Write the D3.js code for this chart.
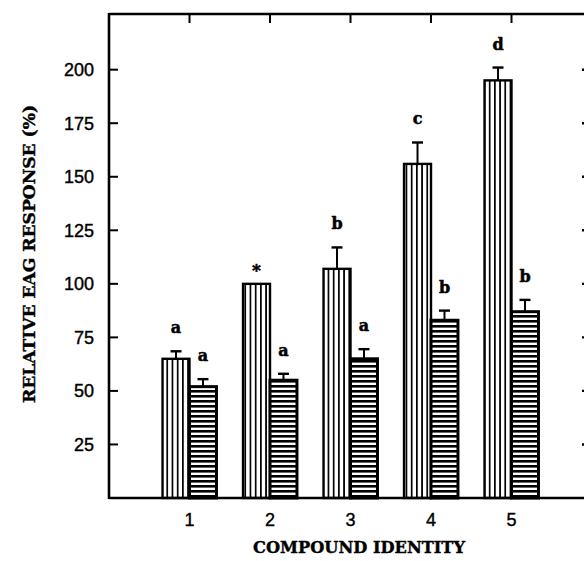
<!DOCTYPE html>
<html>
<head>
<meta charset="utf-8">
<script src="https://cdn.jsdelivr.net/npm/d3@7"></script>
<style>
  html, body { margin: 0; padding: 0; background: #fff; }
  svg { display: block; }
</style>
</head>
<body>
<div id="chart"></div>
<script>
// ---- data ----
const categories = ["1", "2", "3", "4", "5"];
const verticalValues = [65, 100, 107, 156, 195];
const verticalErrors = [3.5, 0, 10, 10, 6];
const verticalLetters = ["a", "*", "b", "c", "d"];
const horizontalValues = [52, 55, 65, 83, 87];
const horizontalErrors = [3.5, 3, 4.5, 4.5, 5.5];
const horizontalLetters = ["a", "a", "a", "b", "b"];
const yTickValues = [25, 50, 75, 100, 125, 150, 175, 200];
const yTitle = "RELATIVE EAG RESPONSE (%)";
const xTitle = "COMPOUND IDENTITY";

// ---- layout ----
const W = 584, H = 561;
const plotLeft = 109, plotRight = 592, plotTop = 14, plotBottom = 498;

const svg = d3.select("#chart").append("svg")
  .attr("width", W).attr("height", H)
  .attr("viewBox", `0 0 ${W} ${H}`);

const x = d3.scaleLinear().domain([0, categories.length + 1]).range([plotLeft, plotRight]);
const y = d3.scaleLinear().domain([0, 226]).range([plotBottom, plotTop]);
const bw = (x(1) - x(0)) * 0.335;

// ---- patterns ----
const defs = svg.append("defs");
const pv = defs.append("pattern").attr("id", "vstripe")
  .attr("patternUnits", "userSpaceOnUse").attr("width", 5.2).attr("height", 10);
pv.append("rect").attr("width", 5.2).attr("height", 10).attr("fill", "#fff");
pv.append("rect").attr("x", 0).attr("width", 1.7).attr("height", 10).attr("fill", "#000");

const ph = defs.append("pattern").attr("id", "hstripe")
  .attr("patternUnits", "userSpaceOnUse").attr("width", 10).attr("height", 5);
ph.append("rect").attr("width", 10).attr("height", 5).attr("fill", "#fff");
ph.append("rect").attr("y", 0).attr("width", 10).attr("height", 2.6).attr("fill", "#000");

// ---- frame ticks ----
const g = svg.append("g");
g.selectAll(".lt").data(yTickValues).join("line")
  .attr("x1", x(0)).attr("x2", x(0) + 9)
  .attr("y1", d => y(d)).attr("y2", d => y(d))
  .attr("stroke", "#000").attr("stroke-width", 2);
g.selectAll(".rt").data(yTickValues).join("line")
  .attr("x1", plotRight - 10).attr("x2", plotRight)
  .attr("y1", d => y(d)).attr("y2", d => y(d))
  .attr("stroke", "#000").attr("stroke-width", 2.4);
g.selectAll(".tt").data(categories).join("line")
  .attr("x1", (d, i) => x(i + 1)).attr("x2", (d, i) => x(i + 1))
  .attr("y1", plotTop).attr("y2", plotTop + 9)
  .attr("stroke", "#000").attr("stroke-width", 2);

g.selectAll(".yl").data(yTickValues).join("text")
  .attr("x", x(0) - 15).attr("y", d => y(d) + 6.5)
  .attr("text-anchor", "end")
  .attr("font-family", "'Liberation Sans', Arial, sans-serif")
  .attr("font-size", 18)
  .attr("stroke", "#000").attr("stroke-width", 0.4)
  .text(d => d);

g.selectAll(".xl").data(categories).join("text")
  .attr("x", (d, i) => x(i + 1)).attr("y", plotBottom + 28)
  .attr("text-anchor", "middle")
  .attr("font-family", "'Liberation Sans', Arial, sans-serif")
  .attr("font-size", 18)
  .attr("stroke", "#000").attr("stroke-width", 0.4)
  .text(d => d);

// ---- bars ----
const bars = svg.append("g");
bars.selectAll(".vb").data(verticalValues).join("rect")
  .attr("x", (d, i) => x(i + 1) - bw).attr("width", bw)
  .attr("y", d => y(d)).attr("height", d => y(0) - y(d))
  .attr("fill", "url(#vstripe)").attr("stroke", "#000").attr("stroke-width", 2.4);
bars.selectAll(".hb").data(horizontalValues).join("rect")
  .attr("x", (d, i) => x(i + 1)).attr("width", bw)
  .attr("y", d => y(d)).attr("height", d => y(0) - y(d))
  .attr("fill", "url(#hstripe)").attr("stroke", "#000").attr("stroke-width", 3);

// ---- error bars ----
function errorBars(values, errors, offset) {
  const data = values.map((v, i) => ({ v, e: errors[i], i })).filter(d => d.e > 0);
  const eg = svg.append("g");
  eg.selectAll("line.s").data(data).join("line")
    .attr("x1", d => x(d.i + 1) + offset).attr("x2", d => x(d.i + 1) + offset)
    .attr("y1", d => y(d.v)).attr("y2", d => y(d.v + d.e))
    .attr("stroke", "#000").attr("stroke-width", 2);
  eg.selectAll("line.c").data(data).join("line")
    .attr("x1", d => x(d.i + 1) + offset - 5.5).attr("x2", d => x(d.i + 1) + offset + 5.5)
    .attr("y1", d => y(d.v + d.e)).attr("y2", d => y(d.v + d.e))
    .attr("stroke", "#000").attr("stroke-width", 2.4);
}
errorBars(verticalValues, verticalErrors, -bw / 2);
errorBars(horizontalValues, horizontalErrors, bw / 2);

// ---- letters ----
function letters(values, errors, labels, offset) {
  svg.append("g").selectAll("text").data(labels).join("text")
    .attr("x", (d, i) => x(i + 1) + offset)
    .attr("y", (d, i) => y(values[i] + errors[i]) - (d === "*" ? 8 : 18))
    .attr("text-anchor", "middle")
    .attr("font-family", "'DejaVu Serif', serif")
    .attr("font-weight", "bold")
    .attr("font-size", d => d === "*" ? 17 : 16)
    .attr("stroke", "#000").attr("stroke-width", 0.5)
    .text(d => d);
}
letters(verticalValues, verticalErrors, verticalLetters, -bw / 2);
letters(horizontalValues, horizontalErrors, horizontalLetters, bw / 2);

// ---- frame ----
const frame = svg.append("g").attr("fill", "none").attr("stroke", "#000").attr("stroke-width", 2.6);
frame.append("line").attr("x1", x(0)).attr("x2", plotRight + 2).attr("y1", plotTop).attr("y2", plotTop);
frame.append("line").attr("x1", x(0)).attr("x2", plotRight + 2).attr("y1", plotBottom).attr("y2", plotBottom);
frame.append("line").attr("x1", x(0)).attr("x2", x(0)).attr("y1", plotTop - 1).attr("y2", plotBottom + 1);
frame.append("line").attr("x1", plotRight).attr("x2", plotRight).attr("y1", plotTop - 1).attr("y2", plotBottom + 1);

// ---- axis titles ----
svg.append("text")
  .attr("transform", `translate(35, ${(105 + 403) / 2}) rotate(-90)`)
  .attr("text-anchor", "middle")
  .attr("font-family", "'DejaVu Serif', serif")
  .attr("font-weight", "bold")
  .attr("font-size", 16)
  .attr("stroke", "#000").attr("stroke-width", 0.4)
  .attr("textLength", 298).attr("lengthAdjust", "spacingAndGlyphs")
  .text(yTitle);

svg.append("text")
  .attr("x", (253 + 465) / 2).attr("y", 553)
  .attr("text-anchor", "middle")
  .attr("font-family", "'DejaVu Serif', serif")
  .attr("font-weight", "bold")
  .attr("font-size", 16)
  .attr("stroke", "#000").attr("stroke-width", 0.4)
  .attr("textLength", 212).attr("lengthAdjust", "spacingAndGlyphs")
  .text(xTitle);
</script>
</body>
</html>
